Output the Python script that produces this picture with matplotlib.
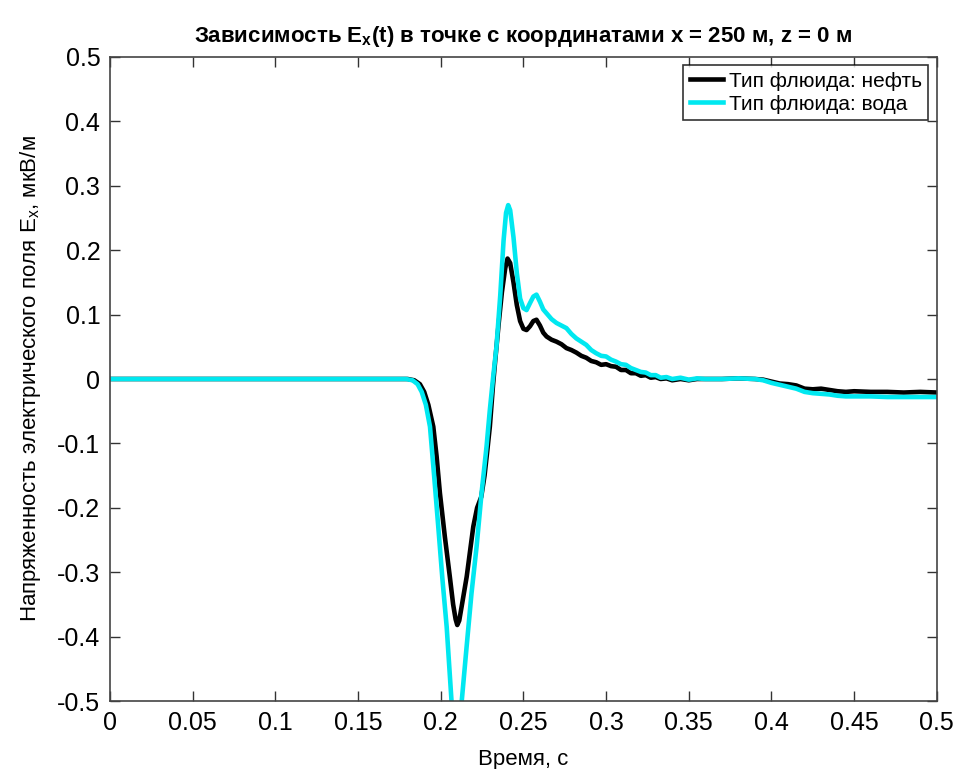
import matplotlib
matplotlib.use("Agg")
import matplotlib.pyplot as plt
from matplotlib.ticker import FuncFormatter, MultipleLocator

# --- E_x(t) at x = 250 m, z = 0 m, two fluid types ---
t_oil = [0.0, 0.180, 0.184, 0.1874, 0.190, 0.1925, 0.1955, 0.1975, 0.1995, 0.2025,
         0.2055, 0.2075, 0.2090, 0.2100, 0.2112, 0.2130, 0.2157, 0.2180, 0.2197, 0.2220,
         0.2245, 0.2265, 0.2280, 0.2297, 0.2316, 0.2330, 0.2350, 0.2370, 0.2390, 0.2404,
         0.2420, 0.2440, 0.2460, 0.2480, 0.2500, 0.2519, 0.2540, 0.2560, 0.2579, 0.2600,
         0.2620, 0.2640, 0.2670, 0.2700, 0.2730, 0.2760, 0.2790, 0.2820, 0.2850, 0.2880,
         0.2910, 0.2940, 0.2970, 0.3000, 0.3030, 0.3060, 0.3090, 0.3120, 0.3150, 0.3180,
         0.3210, 0.3240, 0.3270, 0.3300, 0.3330, 0.3365, 0.340, 0.345, 0.350, 0.355,
         0.360, 0.370, 0.380, 0.390, 0.395, 0.400, 0.405, 0.410, 0.415, 0.420,
         0.425, 0.430, 0.435, 0.440, 0.445, 0.450, 0.460, 0.470, 0.480, 0.490, 0.500]
e_oil = [0.0, 0.0, -0.002, -0.008, -0.020, -0.040, -0.074, -0.120, -0.177, -0.245,
         -0.307, -0.350, -0.373, -0.382, -0.375, -0.348, -0.307, -0.262, -0.229, -0.200,
         -0.183, -0.150, -0.115, -0.074, -0.010, 0.030, 0.085, 0.135, 0.172, 0.187,
         0.180, 0.150, 0.115, 0.090, 0.078, 0.076, 0.082, 0.090, 0.092, 0.083,
         0.072, 0.066, 0.061, 0.058, 0.054, 0.048, 0.045, 0.041, 0.036, 0.033,
         0.028, 0.026, 0.022, 0.023, 0.020, 0.019, 0.014, 0.014, 0.009, 0.009,
         0.005, 0.006, 0.002, 0.003, 0.000, 0.001, -0.002, 0.000, -0.002, 0.000,
         0.000, 0.000, 0.001, 0.000, -0.001, -0.004, -0.007, -0.008, -0.010, -0.015,
         -0.016, -0.015, -0.017, -0.019, -0.020, -0.019, -0.020, -0.020, -0.021, -0.020, -0.021]

t_water = [0.0, 0.179, 0.183, 0.186, 0.1885, 0.191, 0.1935, 0.196, 0.1985, 0.2010,
           0.2036, 0.2066, 0.2080, 0.2092, 0.2105, 0.2126, 0.2155, 0.2186, 0.2217, 0.2247,
           0.2277, 0.2297, 0.2317, 0.2337, 0.2360, 0.2380, 0.2395, 0.2408, 0.2420, 0.2440,
           0.2460, 0.2480, 0.2500, 0.2519, 0.2540, 0.2560, 0.2579, 0.2600, 0.2620, 0.2640,
           0.2670, 0.2700, 0.2730, 0.2760, 0.2790, 0.2820, 0.2850, 0.2880, 0.2910, 0.2940,
           0.2970, 0.3000, 0.3030, 0.3060, 0.3090, 0.3120, 0.3150, 0.3180, 0.3210, 0.3240,
           0.3270, 0.3300, 0.3330, 0.3365, 0.340, 0.345, 0.350, 0.355, 0.360, 0.370,
           0.380, 0.390, 0.395, 0.400, 0.405, 0.410, 0.415, 0.420, 0.425, 0.430,
           0.435, 0.440, 0.445, 0.450, 0.460, 0.470, 0.480, 0.490, 0.500]
e_water = [0.0, 0.0, -0.002, -0.008, -0.020, -0.040, -0.074, -0.150, -0.229, -0.310,
           -0.385, -0.503, -0.550, -0.575, -0.565, -0.503, -0.420, -0.333, -0.260, -0.177,
           -0.105, -0.048, 0.003, 0.050, 0.130, 0.215, 0.258, 0.270, 0.262, 0.220,
           0.165, 0.125, 0.110, 0.107, 0.118, 0.128, 0.131, 0.120, 0.108, 0.102,
           0.093, 0.087, 0.083, 0.079, 0.070, 0.063, 0.058, 0.053, 0.045, 0.040,
           0.036, 0.035, 0.030, 0.027, 0.023, 0.022, 0.017, 0.014, 0.011, 0.010,
           0.006, 0.006, 0.002, 0.003, 0.000, 0.002, -0.001, 0.001, 0.000, 0.000,
           0.001, 0.000, -0.002, -0.006, -0.009, -0.012, -0.015, -0.020, -0.022, -0.023,
           -0.024, -0.026, -0.027, -0.027, -0.027, -0.028, -0.028, -0.028, -0.028]

labels = ["Тип флюида: нефть", "Тип флюида: вода"]
colors = ["black", "#00e8f0"]

plt.rcParams['font.family'] = ['Liberation Sans', 'DejaVu Sans']
plt.rcParams['mathtext.fontset'] = 'custom'
plt.rcParams['mathtext.rm'] = 'Liberation Sans'
plt.rcParams['mathtext.bf'] = 'Liberation Sans:bold'
plt.rcParams['axes.unicode_minus'] = False

fig = plt.figure(figsize=(9.54, 7.69), dpi=100)
ax = fig.add_axes([0.1153, 0.0884, 0.8667, 0.8375])

ax.plot(t_oil, e_oil, color=colors[0], lw=3.3, label=labels[0], solid_joinstyle='round')
ax.plot(t_water, e_water, color=colors[1], lw=3.3, label=labels[1], solid_joinstyle='round')

ax.set_xlim(0, 0.5)
ax.set_ylim(-0.5, 0.5)
ax.xaxis.set_major_locator(MultipleLocator(0.05))
ax.yaxis.set_major_locator(MultipleLocator(0.1))
fmt = FuncFormatter(lambda v, pos: "%g" % round(v, 3))
ax.xaxis.set_major_formatter(fmt)
ax.yaxis.set_major_formatter(fmt)

ax.tick_params(direction='in', length=7, width=1, top=True, right=True,
               labelsize=18, color='#333333', pad=7)
for s in ax.spines.values():
    s.set_color('#444444')
    s.set_linewidth(1.2)

ax.set_title("Зависимость E$_\\mathbf{x}$(t) в точке с координатами x = 250 м, z = 0 м",
             fontsize=16, fontweight='bold', pad=11)
ax.set_xlabel("Время, с", fontsize=16, labelpad=10)
ax.set_ylabel("Напряженность электрического поля E$_\\mathrm{x}$, мкВ/м", fontsize=16, labelpad=10)

leg = ax.legend(loc='upper right', fontsize=15, frameon=True, fancybox=False,
                handlelength=1.6, handletextpad=0.3, borderpad=0.3, labelspacing=0.2,
                borderaxespad=0.4)
leg.get_frame().set_edgecolor('black')
leg.get_frame().set_linewidth(1.2)

fig.savefig("out.png", dpi=100)
